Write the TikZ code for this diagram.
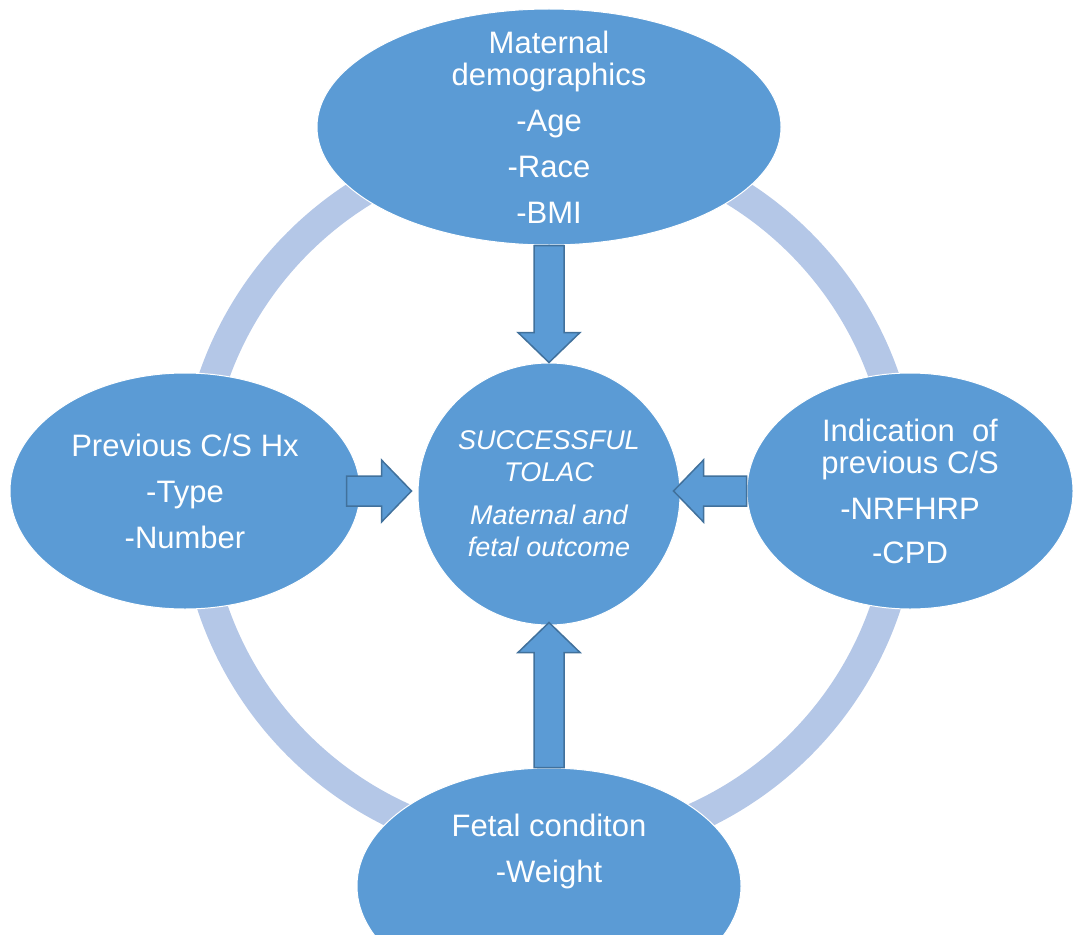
\documentclass[tikz,border=0pt]{standalone}
\usepackage{fontspec}
\setmainfont{Liberation Sans}
\usepackage{xcolor}
\usetikzlibrary{calc, shapes.geometric}

\definecolor{bubblue}{HTML}{5B9BD5}
\definecolor{ringblue}{HTML}{B4C7E7}
\definecolor{edgeblue}{HTML}{41719C}

% block arrow from #1 to #2
\newcommand{\blockarrow}[2]{%
  \draw[barr] let \p1=($(#2)-(#1)$), \n1={atan2(\y1,\x1)}, \n2={veclen(\x1,\y1)} in
    [shift={(#1)}, rotate=\n1]
    (0,15) -- (\n2-30,15) -- (\n2-30,31) -- (\n2,0) -- (\n2-30,-31)
    -- (\n2-30,-15) -- (0,-15) -- cycle;}

\begin{document}
\begin{tikzpicture}[
  x=1pt, y=-1pt,
  bub/.style={ellipse, fill=bubblue, draw=white, line width=1pt, inner sep=0pt},
  txt/.style={text=white, align=center, font=\fontsize{31}{32}\selectfont},
  ctxt/.style={txt, font=\fontsize{27}{32}\selectfont\itshape},
  ring/.style={draw=ringblue, line width=30pt},
  barr/.style={fill=bubblue, draw=edgeblue, line width=1.5pt, line join=miter},
]
\useasboundingbox (0,0) rectangle (1073,934);
\coordinate (mid) at (549,494);
\draw[ring] (mid) circle[radius=355];

% outcome in the middle
\node[bub, circle, minimum size=262] (out) at (mid) {};
\node[ctxt] (out-t) at (out) {SUCCESSFUL\\TOLAC\\[11pt]Maternal and\\fetal outcome};

% factors round it
\node[bub, minimum width=464, minimum height=236] (mat) at (549,127) {};
\node[bub, minimum width=350, minimum height=236] (prev) at (185,491) {};
\node[bub, minimum width=326, minimum height=236] (ind) at (910,491) {};
\node[bub, minimum width=384, minimum height=236] (fet) at (549,886) {};

\node[txt] (mat-t) at (mat) {Maternal\\demographics\\[14pt]-Age\\[14pt]-Race\\[14pt]-BMI};
\node[txt] (prev-t) at (prev) {Previous C/S Hx\\[14pt]-Type\\[14pt]-Number};
\node[txt] (ind-t) at (ind) {Indication~~of\\previous C/S\\[14pt]-NRFHRP\\[12pt]-CPD};
\node[txt] (fet-t) at ($(fet)+(0,-35)$) {Fetal conditon\\[14pt]-Weight};

\coordinate (prev-s) at ($(prev.east)+(-14,0)$);
\coordinate (out-w) at ($(out.west |- prev.east)+(-6,0)$);
\coordinate (out-e) at ($(out.east |- ind.west)+(-7,0)$);
\coordinate (out-s) at ($(out.south)+(0,-3)$);

\blockarrow{mat.south}{out.north}
\blockarrow{prev-s}{out-w}
\blockarrow{ind.west}{out-e}
\blockarrow{fet.north}{out-s}
\end{tikzpicture}
\end{document}
